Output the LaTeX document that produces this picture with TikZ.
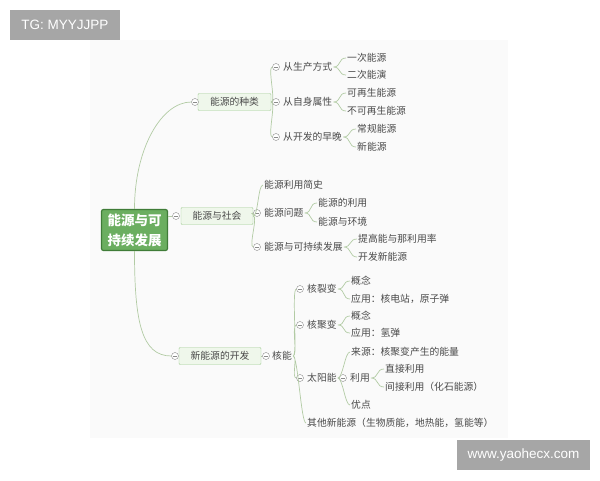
\documentclass[tikz,border=0pt]{standalone}
\usepackage{fontspec}
\setmainfont{Noto Sans CJK SC}
\newfontfamily\wmfont{Liberation Sans}
\definecolor{txt}{HTML}{4A4A4A}
\definecolor{lnk}{HTML}{B2CBA4}
\definecolor{topicfill}{HTML}{EFF7EB}
\definecolor{topicline}{HTML}{9FCB91}
\definecolor{foldline}{HTML}{8A8A8A}
\definecolor{rootfill}{HTML}{6BAE60}
\definecolor{rootline}{HTML}{3F7C38}
\definecolor{panel}{HTML}{FAFAFA}
\definecolor{wm}{HTML}{A6A6A6}

\begin{document}
\begin{tikzpicture}[x=1pt,y=-1pt,font=\fontsize{9.8}{11}\selectfont]
\useasboundingbox (0,0) rectangle (600,480);
\fill[white] (0,0) rectangle (600,480);
\fill[panel] (90,40) rectangle (508,438);
\tikzstyle{wmbox}=[fill=wm,text=white,minimum height=30pt,inner sep=0pt,font=\wmfont\fontsize{13.5}{15}\selectfont];
\tikzstyle{root}=[draw=rootline,line width=1.2pt,fill=rootfill,rounded corners=2pt,text=white,align=center,minimum width=66pt,minimum height=41pt,inner sep=1pt,font=\fontsize{13.5}{20}\selectfont\bfseries];
\tikzstyle{topic}=[draw=topicline,fill=topicfill,rounded corners=1pt,text=txt,minimum height=17pt,inner sep=1pt];
\tikzstyle{fold}=[circle,draw=foldline,fill=white,minimum size=7pt,inner sep=0pt,path picture={\draw[foldline] ([xshift=1.5pt]path picture bounding box.west) -- ([xshift=-1.5pt]path picture bounding box.east);}];
\tikzstyle{leaf}=[anchor=west,inner sep=1pt,text=txt];
\tikzstyle{link}=[draw=lnk,line width=0.7pt];
\tikzstyle{brace}=[to path={.. controls +(8,0) and +(-8,0) .. (\tikztotarget)}];
\tikzstyle{bus}=[to path={.. controls +(5,0) and +(-5,0) .. (\tikztotarget)}];

\node[wmbox,minimum width=110pt] (w1) at (65,25) {TG: MYYJJPP};
\node[wmbox,minimum width=133pt] (w2) at (523.5,455) {www.yaohecx.com};

\node[root] (v0) at (134.5,230) {能源与可\\持续发展};

\node[topic,minimum width=73pt] (v1) at (234.5,102) {能源的种类};
\node[fold] (c1) at (195,102) {};
\node[fold] (c11) at (276,67) {};
\node[fold] (c12) at (276,102) {};
\node[fold] (c13) at (276,137) {};
\node[leaf] (t11) at (282,67) {从生产方式};
\node[leaf] (t12) at (282,102) {从自身属性};
\node[leaf] (t13) at (282,137) {从开发的早晚};
\node[leaf] (l111) at (346,58) {一次能源};
\node[leaf] (l112) at (346,75) {二次能演};
\node[leaf] (l121) at (346,93) {可再生能源};
\node[leaf] (l122) at (346,111) {不可再生能源};
\node[leaf] (l131) at (356,129) {常规能源};
\node[leaf] (l132) at (356,147) {新能源};

\node[topic,minimum width=72pt] (v2) at (217,216) {能源与社会};
\node[fold] (c2) at (176,216) {};
\node[leaf] (t21) at (263,185) {能源利用简史};
\node[fold] (c22) at (257,213) {};
\node[fold] (c23) at (257,247) {};
\node[leaf] (t22) at (263,213) {能源问题};
\node[leaf] (t23) at (263,247) {能源与可持续发展};
\node[leaf] (l221) at (317,203) {能源的利用};
\node[leaf] (l222) at (317,222) {能源与环境};
\node[leaf] (l231) at (357,239) {提高能与那利用率};
\node[leaf] (l232) at (357,257) {开发新能源};

\node[topic,minimum width=82pt] (v3) at (220,356) {新能源的开发};
\node[fold] (c3) at (175,356) {};
\node[fold] (c31) at (266,356) {};
\node[leaf] (t31) at (271,356) {核能};
\node[fold] (c311) at (300,289) {};
\node[fold] (c312) at (300,325) {};
\node[fold] (c313) at (300,378) {};
\node[leaf] (t311) at (306,289) {核裂变};
\node[leaf] (t312) at (306,325) {核聚变};
\node[leaf] (t313) at (306,378) {太阳能};
\node[leaf] (t314) at (306,423) {其他新能源（生物质能，地热能，氢能等）};
\node[leaf] (l3111) at (350,281) {概念};
\node[leaf] (l3112) at (350,299) {应用：核电站，原子弹};
\node[leaf] (l3121) at (350,316) {概念};
\node[leaf] (l3122) at (350,333) {应用：氢弹};
\node[leaf] (l3131) at (350,352) {来源：核聚变产生的能量};
\node[fold] (c3132) at (343,378) {};
\node[leaf] (t3132) at (349,378) {利用};
\node[leaf] (l3133) at (350,405) {优点};
\node[leaf] (l31321) at (384,369) {直接利用};
\node[leaf] (l31322) at (384,387) {间接利用（化石能源）};

\draw[link] (v0.north) .. controls +(0,-60) and +(-30,0) .. (c1.west);
\draw[link] (c2.west -| v0.east) -- (c2.west);
\draw[link] (v0.south) .. controls +(0,70) and +(-30,0) .. (c3.west);

\draw[link] (v1.east) to[bus] (c11.west) (v1.east) -- (c12.west) (v1.east) to[bus] (c13.west);
\draw[link] (t11.east) to[brace] (l111.west) (t11.east) to[brace] (l112.west);
\draw[link] (t12.east) to[brace] (l121.west) (t12.east) to[brace] (l122.west);
\draw[link] (t13.east) to[brace] (l131.west) (t13.east) to[brace] (l132.west);

\draw[link] (v2.east) to[bus] (t21.west) (v2.east) to[bus] (c22.west) (v2.east) to[bus] (c23.west);
\draw[link] (t22.east) to[brace] (l221.west) (t22.east) to[brace] (l222.west);
\draw[link] (t23.east) to[brace] (l231.west) (t23.east) to[brace] (l232.west);

\draw[link] (v3.east) -- (c31.west);
\draw[link] (t31.east) to[bus] (c311.west) (t31.east) to[bus] (c312.west) (t31.east) to[bus] (c313.west) (t31.east) to[bus] (t314.west);
\draw[link] (t311.east) to[brace] (l3111.west) (t311.east) to[brace] (l3112.west);
\draw[link] (t312.east) to[brace] (l3121.west) (t312.east) to[brace] (l3122.west);
\draw[link] (t313.east) to[bus] (l3131.west) (t313.east) -- (c3132.west) (t313.east) to[bus] (l3133.west);
\draw[link] (t3132.east) to[brace] (l31321.west) (t3132.east) to[brace] (l31322.west);
\end{tikzpicture}
\end{document}
